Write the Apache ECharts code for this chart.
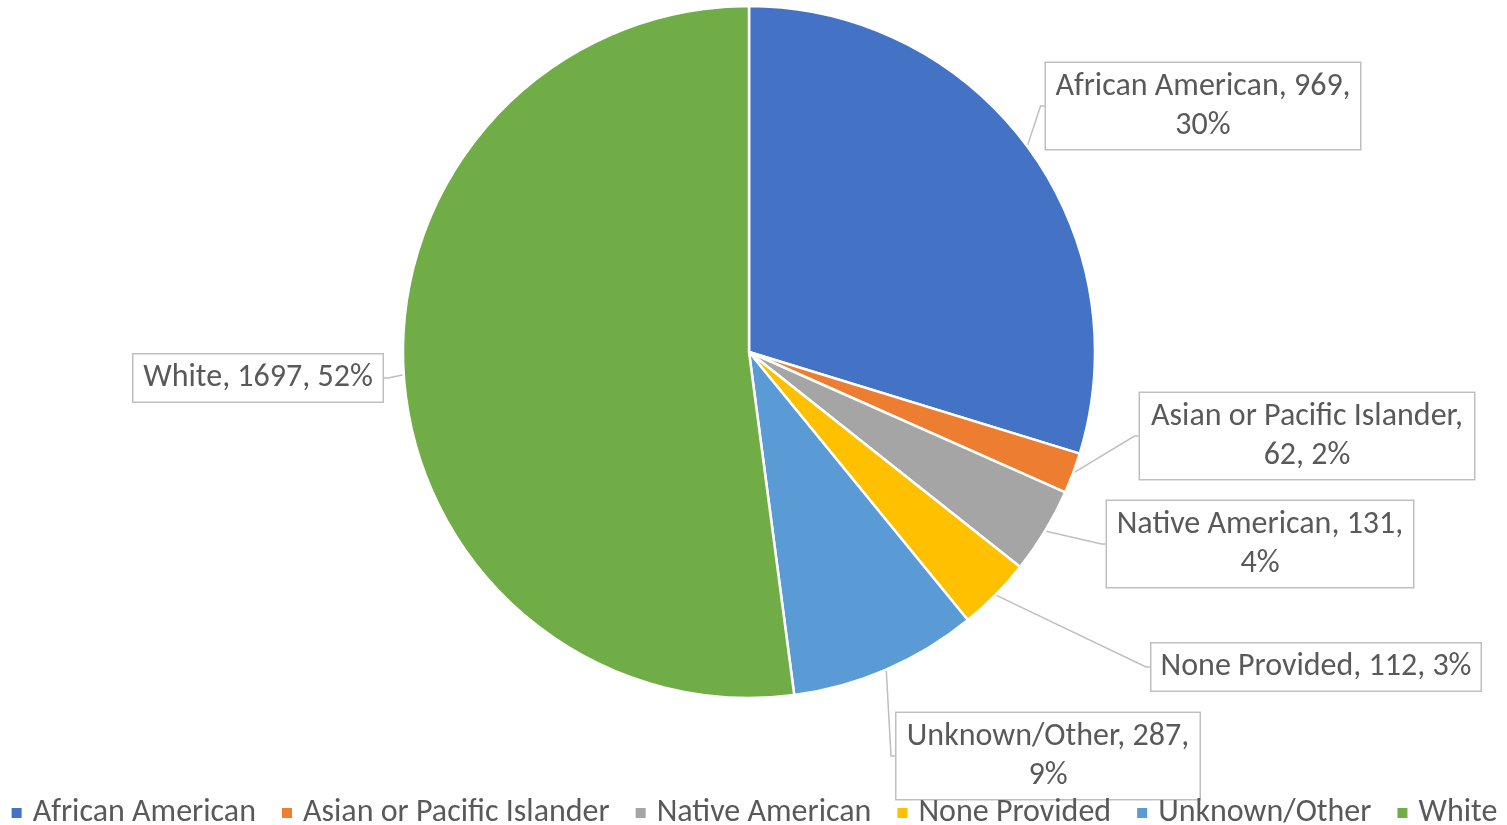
<!DOCTYPE html>
<html>
<head>
<meta charset="utf-8">
<script src="https://cdn.jsdelivr.net/npm/echarts@6/dist/echarts.min.js"></script>
<style>
html,body{margin:0;padding:0;background:#fff;}
#main{width:1507px;height:825px;}
</style>
</head>
<body>
<div id="main"></div>
<script>
// ---- data ----
const categories = ['African American', 'Asian or Pacific Islander', 'Native American', 'None Provided', 'Unknown/Other', 'White'];
const values = [969, 62, 131, 112, 287, 1697];
// where each label wraps: 'value' = after the value, 'name' = after the name, null = one line
const labelBreaks = ['value', 'name', 'value', null, 'value', null];

// ---- style / layout (not data) ----
const colors = ['#4472C4', '#ED7D31', '#A5A5A5', '#FFC000', '#5B9BD5', '#70AD47'];
const labelCenters = [[1203, 106], [1307, 436], [1260, 544], [1316, 667], [1048, 756], [258, 378]];
const labelWidths = [296, 316, 288, 311, 285, 231];

const chart = echarts.init(document.getElementById('main'));
const font = 'Carlito, Calibri, Lato, sans-serif';

const seriesData = categories.map((n, i) => ({
  name: n,
  value: values[i],
  itemStyle: { color: colors[i] },
  label: { width: labelWidths[i] }
}));

chart.setOption({
  animation: false,
  color: colors,
  legend: {
    top: 797,
    left: 'center',
    width: 1700,
    icon: 'rect',
    itemWidth: 12,
    itemHeight: 12,
    itemGap: 24,
    padding: 0,
    textStyle: { fontFamily: font, fontSize: 32, color: '#595959', padding: [0, 0, 0, 5] },
    data: categories
  },
  series: [{
    type: 'pie',
    center: [749, 352],
    radius: 346,
    startAngle: 90,
    clockwise: true,
    data: seriesData,
    itemStyle: { borderColor: '#fff', borderWidth: 2.5 },
    label: {
      show: true,
      fontFamily: font,
      fontSize: 32,
      lineHeight: 39,
      color: '#595959',
      align: 'center',
      overflow: 'none',
      backgroundColor: '#fff',
      borderColor: '#BFBFBF',
      borderWidth: 1.5,
      padding: [7, 9, 1, 9],
      formatter: p => {
        const pct = Math.round(p.percent) + '%';
        const b = labelBreaks[p.dataIndex];
        if (b === 'value') return p.name + ', ' + p.value + ',\n' + pct;
        if (b === 'name') return p.name + ',\n' + p.value + ', ' + pct;
        return p.name + ', ' + p.value + ', ' + pct;
      }
    },
    labelLine: {
      show: true,
      length: 4,
      length2: 4,
      lineStyle: { color: '#BFBFBF', width: 1.5 }
    },
    labelLayout: p => ({
      x: labelCenters[p.dataIndex][0],
      y: labelCenters[p.dataIndex][1],
      align: 'center',
      verticalAlign: 'middle',
      hideOverlap: false,
      moveOverlap: null
    })
  }]
});
</script>
</body>
</html>
